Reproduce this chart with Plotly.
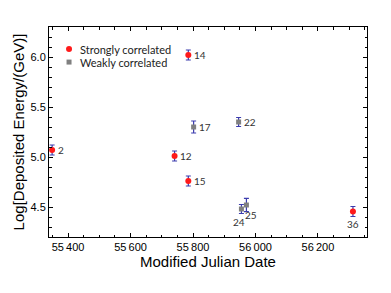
import plotly.graph_objects as go

# Strongly correlated events
strong_name = "Strongly correlated"
strong_ids = ["2", "12", "14", "15", "36"]
strong_mjd = [55349, 55741, 55785, 55785, 56312]
strong_val = [5.07, 5.01, 6.02, 4.76, 4.455]
strong_err = [0.05, 0.05, 0.05, 0.05, 0.05]

# Weakly correlated events
weak_name = "Weakly correlated"
weak_ids = ["17", "22", "24", "25"]
weak_mjd = [55802, 55946, 55955, 55971]
weak_val = [5.30, 5.35, 4.48, 4.52]
weak_err = [0.06, 0.045, 0.045, 0.067]

x_ticks = [55400, 55600, 55800, 56000, 56200]
x_ticktext = ["55\u2009400", "55\u2009600", "55\u2009800", "56\u2009000", "56\u2009200"]
y_ticks = [4.5, 5.0, 5.5, 6.0]
y_ticktext = ["4.5", "5.0", "5.5", "6.0"]

# label offsets (pixels: dx, dy-down) for labels not placed to the right
label_pos = {"24": (-2, 13), "25": (5, 10), "36": (0, 12)}

err_color = "#3c3cae"
red = "#ff1a1a"
gray = "#808080"

fig = go.Figure()
fig.add_trace(go.Scatter(
    x=strong_mjd, y=strong_val, mode="markers", name=strong_name,
    marker=dict(symbol="circle", size=6, color=red),
    error_y=dict(type="data", array=strong_err, color=err_color, thickness=1.2, width=2.5),
))
fig.add_trace(go.Scatter(
    x=weak_mjd, y=weak_val, mode="markers", name=weak_name,
    marker=dict(symbol="square", size=5, color=gray),
    error_y=dict(type="data", array=weak_err, color=err_color, thickness=1.2, width=2.5),
))

for ids, xs, ys in [(strong_ids, strong_mjd, strong_val), (weak_ids, weak_mjd, weak_val)]:
    for i, x, y in zip(ids, xs, ys):
        if i in label_pos:
            dx, dy = label_pos[i]
            anchor = "center"
        else:
            dx, dy = 3.5, 0
            anchor = "left"
        fig.add_annotation(x=x, y=y, text=i, showarrow=False, xshift=dx, yshift=-dy,
                           xanchor=anchor, yanchor="middle",
                           font=dict(family="Lato", size=10, color="#333333"))

# manual legend (inside the plot, top-left)
leg_x_sym = 0.063
leg_x_txt = 0.091
leg_rows = [(0.895, strong_name, "circle", red, 3), (0.833, weak_name, "rect", gray, 2.5)]
for yy, name, kind, col, r in leg_rows:
    fig.add_shape(type=kind, xref="paper", yref="paper", xsizemode="pixel", ysizemode="pixel",
                  xanchor=leg_x_sym, yanchor=yy, x0=-r, x1=r, y0=-r, y1=r,
                  fillcolor=col, line=dict(width=0))
    fig.add_annotation(xref="paper", yref="paper", x=leg_x_txt, y=yy, text=name, showarrow=False,
                       xanchor="left", yanchor="middle",
                       font=dict(family="Lato", size=11, color="#222222"))

axis_common = dict(
    showline=True, linecolor="black", linewidth=1, mirror="ticks",
    ticks="inside", ticklen=4, tickcolor="black", showgrid=False, zeroline=False,
    tickfont=dict(family="Liberation Sans", size=11, color="black"),
    automargin=False,
)

title_font = dict(family="Liberation Sans", size=15, color="black")

fig.update_xaxes(range=[55339, 56357], tickvals=x_ticks, ticktext=x_ticktext,
                 minor=dict(dtick=50, ticks="inside", ticklen=2.5, tickcolor="black"),
                 title=dict(text="Modified Julian Date", font=title_font, standoff=0),
                 **axis_common)
fig.update_yaxes(range=[4.2, 6.3], tickvals=y_ticks, ticktext=y_ticktext,
                 minor=dict(dtick=0.1, ticks="inside", ticklen=2.5, tickcolor="black"),
                 title=dict(text="Log[Deposited Energy/(GeV)]", font=title_font, standoff=2),
                 **axis_common)

fig.update_layout(
    width=391, height=293,
    margin=dict(l=49, r=24, t=27, b=56),
    plot_bgcolor="white", paper_bgcolor="white",
    showlegend=False,
)

fig.write_html("out.html", config={"displayModeBar": False},
               post_script="document.body.style.margin='0';")
